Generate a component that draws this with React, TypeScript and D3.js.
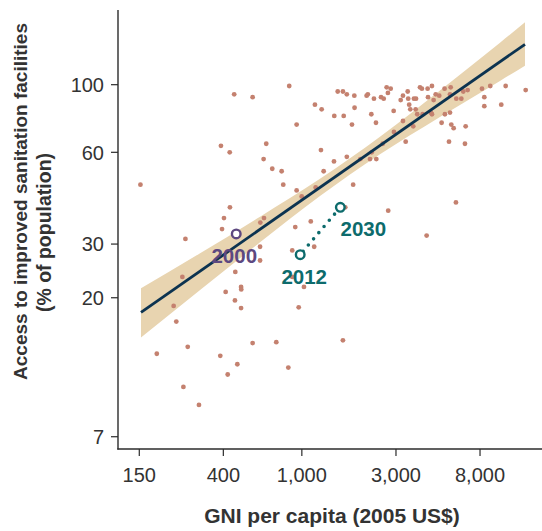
import React from "react";
import * as d3 from "d3";

// GNI per capita (2005 US$) and access to improved sanitation (% of population)
const gni = [
  152, 389, 431, 454, 563, 863, 660, 640, 708, 790,
  805, 941, 941, 998, 1165, 1260, 1250, 1290, 1175, 1455,
  1460, 1520, 1615, 1690, 1630, 1690, 1845, 1850, 1795, 1820,
  1980, 2130, 2160, 2250, 2320, 2375, 2260, 2215, 2385, 2570,
  2520, 2600, 2690, 2820, 2730, 2920, 2930, 3170, 3255, 3440,
  3460, 3500, 3255, 3360, 3545, 3670, 3700, 3790, 3775, 3845,
  3970, 4060, 4095, 4340, 4565, 4360, 4655, 4770, 4970, 4515,
  4565, 5290, 5680, 5635, 5310, 5635, 5110, 5720, 5880, 5570,
  6065, 6430, 6580, 6925, 6765, 6710, 8185, 8410, 8410, 9015,
  10250, 10790, 13630, 432, 403, 394, 257, 643, 616, 926,
  1110, 1155, 894, 978, 614, 614, 460, 248, 492, 493,
  411, 458, 492, 224, 231, 894, 1025, 964, 1660, 2740,
  6040, 4290, 184, 264, 386, 471, 421, 563, 742, 854,
  1615, 251, 301,
];
const access = [
  47, 63, 60, 93, 91, 99, 64, 57, 53, 52,
  47, 74, 45, 43, 86, 83, 61, 52, 46, 56,
  79, 95, 95, 93, 79, 58, 92, 84, 74, 47,
  57, 92, 93, 80, 90, 75, 60, 57, 57, 64,
  91, 90, 98, 97, 94, 82, 70, 89, 92, 95,
  90, 86, 76, 65, 83, 73, 90, 90, 83, 80,
  98, 97, 80, 97, 99, 91, 89, 93, 92, 81,
  80, 97, 98, 93, 80, 81, 75, 74, 72, 65,
  90, 90, 95, 96, 73, 64, 97, 91, 85, 99,
  86, 99, 96, 39.6, 36.5, 33.6, 31.2, 36.5, 35.3, 34.1,
  35.6, 29.4, 28.6, 27.6, 29.4, 26.5, 24.3, 23.4, 21.7, 21.3,
  20.9, 19.6, 18.5, 18.8, 16.7, 23.4, 21.7, 18.6, 39.6, 38.6,
  41.1, 32.0, 13.1, 13.8, 12.9, 12.1, 11.2, 14.2, 14.3, 11.8,
  14.5, 10.2, 8.9,
];

const xTicks = [150, 400, 1000, 3000, 8000];
const yTicks = [7, 20, 30, 60, 100];

const fitGni = [153, 13520];
const fitAccess = [17.9, 135.7];

const bandGni = [153, 305, 614, 1236, 2489, 5012, 10100, 13520];
const bandLower = [14.8, 21.2, 30.4, 43.1, 59.1, 78.4, 102.9, 115.4];
const bandUpper = [21.5, 28.0, 36.9, 49.1, 67.5, 95.7, 137.3, 160.2];

const milestoneYears = ["2000", "2012", "2030"];
const milestoneGni = [465, 981, 1567];
const milestoneAccess = [32.4, 27.7, 39.6];

const W = 542;
const H = 531;
const FONT = "'Liberation Sans', Arial, Helvetica, sans-serif";
const AXIS = "#2b2b2b";
const TEXT = "#333333";
const POINT = "#c4816f";
const BAND = "#e8d4b0";
const FIT = "#0c3350";
const PURPLE = "#5d4880";
const TEAL = "#0d6b6c";

export default function App() {
  const x = d3.scaleLog().domain([117, 16490]).range([118, 542]);
  const y = d3.scaleLog().domain([6.38, 175.8]).range([449, 10]);
  const fmt = d3.format(",");

  const bandData = bandGni.map((g, i) => ({ g, lo: bandLower[i], hi: bandUpper[i] }));
  const area = d3
    .area<{ g: number; lo: number; hi: number }>()
    .x((d) => x(d.g))
    .y0((d) => y(d.lo))
    .y1((d) => y(d.hi))
    .curve(d3.curveMonotoneX);

  const fitLine = d3
    .line<number>()
    .x((_, i) => x(fitGni[i]))
    .y((d) => y(d))(fitAccess);

  const ms = milestoneYears.map((yr, i) => ({
    yr,
    cx: x(milestoneGni[i]),
    cy: y(milestoneAccess[i]),
  }));
  const msColor = [PURPLE, TEAL, TEAL];
  const labelOffset = [
    [-2, 29],
    [4, 29],
    [23, 29],
  ];

  return (
    <svg
      width={W}
      height={H}
      style={{ position: "absolute", left: 0, top: 0, background: "#fff" }}
      fontFamily={FONT}
    >
      <path d={area(bandData) || ""} fill={BAND} />
      <g>
        {gni.map((g, i) => (
          <circle key={i} cx={x(g)} cy={y(access[i])} r={2.4} fill={POINT} />
        ))}
      </g>
      <path d={fitLine || ""} stroke={FIT} strokeWidth={2.8} fill="none" />

      {/* dotted path 2012 -> 2030 */}
      <line
        x1={ms[1].cx}
        y1={ms[1].cy}
        x2={ms[2].cx}
        y2={ms[2].cy}
        stroke={TEAL}
        strokeWidth={3.6}
        strokeLinecap="round"
        strokeDasharray="0 8.1"
        strokeDashoffset={3.6}
      />
      {ms.map((m, i) => (
        <circle
          key={m.yr}
          cx={m.cx}
          cy={m.cy}
          r={4.3}
          fill="#fff"
          stroke={msColor[i]}
          strokeWidth={2.4}
        />
      ))}
      {ms.map((m, i) => (
        <text
          key={"l" + m.yr}
          x={m.cx + labelOffset[i][0]}
          y={m.cy + labelOffset[i][1]}
          textAnchor="middle"
          fontSize={20.5}
          fontWeight="bold"
          fill={msColor[i]}
        >
          {m.yr}
        </text>
      ))}

      {/* axes */}
      <line x1={118} y1={10} x2={118} y2={449.5} stroke={AXIS} strokeWidth={1.4} />
      <line x1={117.3} y1={449} x2={542} y2={449} stroke={AXIS} strokeWidth={1.4} />
      {yTicks.map((t) => (
        <g key={"y" + t}>
          <line x1={111} x2={118} y1={y(t)} y2={y(t)} stroke={AXIS} strokeWidth={1.2} />
          <text
            x={104}
            y={y(t)}
            dy="0.36em"
            textAnchor="end"
            fontSize={20}
            fill={TEXT}
          >
            {fmt(t)}
          </text>
        </g>
      ))}
      {xTicks.map((t) => (
        <g key={"x" + t}>
          <line x1={x(t)} x2={x(t)} y1={449} y2={456} stroke={AXIS} strokeWidth={1.2} />
          <text x={x(t)} y={481.5} textAnchor="middle" fontSize={20} fill={TEXT}>
            {fmt(t)}
          </text>
        </g>
      ))}

      <text
        x={332}
        y={523}
        textAnchor="middle"
        fontSize={21}
        fontWeight="bold"
        fill={TEXT}
      >
        GNI per capita (2005 US$)
      </text>
      <text
        transform="translate(26.5,201.5) rotate(-90)"
        textAnchor="middle"
        fontSize={19}
        fontWeight="bold"
        fill={TEXT}
      >
        Access to improved sanitation facilities
      </text>
      <text
        transform="translate(51,232.5) rotate(-90)"
        textAnchor="middle"
        fontSize={19.5}
        fontWeight="bold"
        fill={TEXT}
      >
        (% of population)
      </text>
    </svg>
  );
}
